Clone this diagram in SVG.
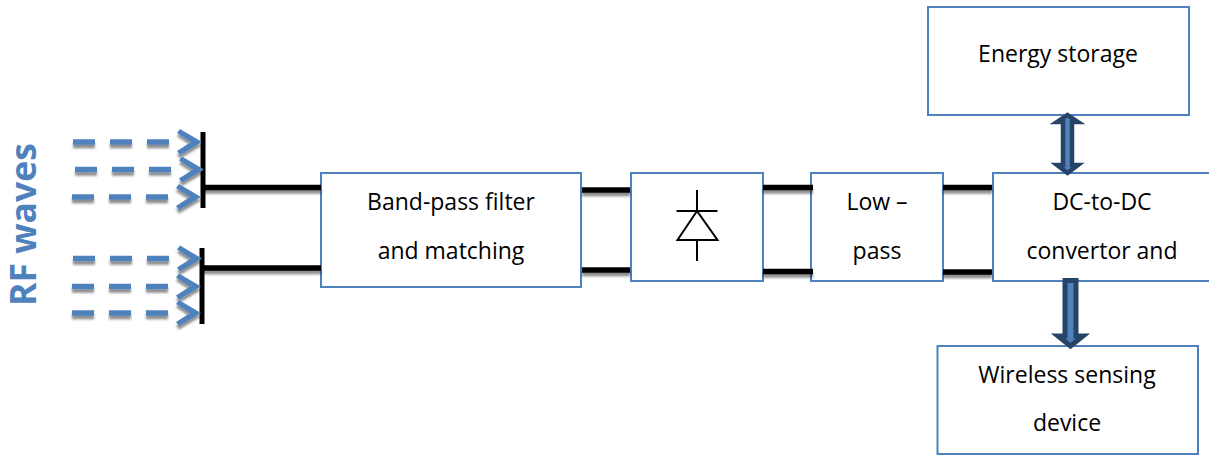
<svg xmlns="http://www.w3.org/2000/svg" width="1209" height="455" viewBox="0 0 1209 455">
<defs>
<filter id="sh" filterUnits="userSpaceOnUse" x="0" y="0" width="1209" height="455"><feDropShadow dx="0" dy="3.500" stdDeviation="0.800" flood-color="#000" flood-opacity="0.45"/></filter>
<g id="wave"><path class="dash" d="M-129 0h22M-92 0h22M-55 0h22"/><path class="chev" d="M-25 -9L-22 -13L0 0L-22 13L-25 9L-11 0Z"/></g>
</defs>
<style>
.box{fill:#fff;stroke:#4f81bd;stroke-width:2}
.t{font-family:"Open Sans",sans-serif;font-size:23px;fill:#000;text-anchor:middle}
.w{stroke:#000;stroke-width:5.500;fill:none}
.bar{stroke:#000;stroke-width:5;fill:none}
.dash{stroke:#4f81bd;stroke-width:5.500;fill:none}
.chev{fill:#4f81bd}
.d{stroke:#000;stroke-width:2;fill:none}
.ar{fill:#4f81bd;stroke:#264468;stroke-linejoin:miter}
</style>
<g id="antenna-top">
<path class="bar" d="M203 132V208"/>
<g filter="url(#sh)"><use href="#wave" x="202" y="142"/><use href="#wave" x="204" y="169.500"/><use href="#wave" x="201" y="197"/></g>
</g>
<g id="antenna-bottom">
<path class="bar" d="M202 248V324"/>
<g filter="url(#sh)"><use href="#wave" x="202" y="258.500"/><use href="#wave" x="201" y="286.500"/><use href="#wave" x="201" y="313"/></g>
</g>
<g id="rf-label"><text transform="translate(36 306) rotate(-90)" font-family="'Open Sans',sans-serif" font-size="35.500" font-weight="700" fill="#4f81bd">RF waves</text></g>
<g id="filter"><rect class="box" x="321" y="173" width="260" height="114"/><text class="t" x="451" y="209.500">Band-pass filter</text><text class="t" x="451" y="258.500">and matching</text></g>
<g id="rectifier"><rect class="box" x="631" y="173" width="132" height="108"/>
<path class="d" d="M697 190V211M676.500 211H717.500M697 211L677.500 240H717.500ZM697 240V261"/></g>
<g id="lowpass"><rect class="box" x="811" y="173" width="132" height="108"/><text class="t" x="877" y="209.500">Low –</text><text class="t" x="877" y="258.500">pass</text></g>
<g id="dcdc"><rect class="box" x="993" y="173" width="230" height="108"/><text class="t" x="1102" y="209.500">DC-to-DC</text><text class="t" x="1102" y="258.500">convertor and</text></g>
<g id="storage"><rect class="box" x="928" y="7" width="261" height="108"/><text class="t" x="1058" y="61.500">Energy storage</text></g>
<g id="sensor"><rect class="box" x="937.500" y="346" width="260.500" height="108"/><text class="t" x="1067" y="382.500">Wireless sensing</text><text class="t" x="1067" y="430.500">device</text></g>
<g id="connectors">
<g filter="url(#sh)">
<path class="w" d="M203 187.500H321"/><path class="w" d="M202 268H321"/>
<path class="w" d="M582 190H630"/><path class="w" d="M582 270H630"/>
<path class="w" d="M763 187.500H813"/><path class="w" d="M763 271.500H813"/>
<path class="w" d="M943 187.500H992"/><path class="w" d="M943 272H992"/>
</g>
<path class="ar" stroke-width="4.500" d="M1067.500 115L1078 122H1072V165H1078L1067.500 173L1057 165H1063V122H1057Z"/>
<path class="ar" stroke-width="5" d="M1065 280.500H1076V336H1083L1070.500 346L1058 336H1065Z"/>
</g>
</svg>
